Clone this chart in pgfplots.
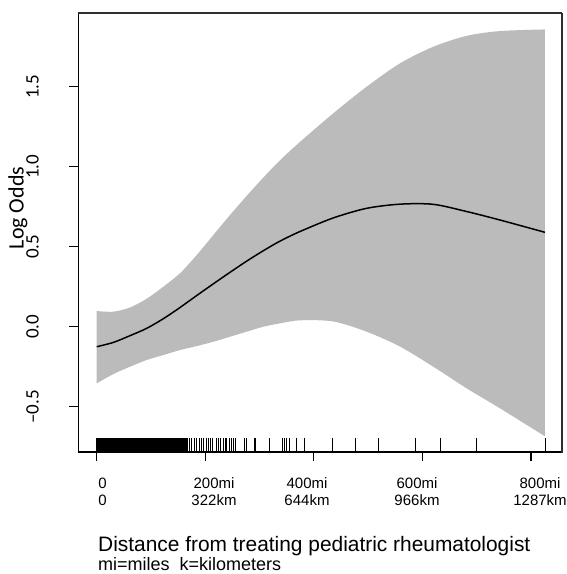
\documentclass[border=0pt]{standalone}
\usepackage{fontspec}
\setmainfont{Liberation Sans}
\newfontfamily\carlito{Carlito}
\usepackage{pgfplots}
\usepgfplotslibrary{fillbetween}
\pgfplotsset{compat=1.18}

% fitted log odds with lower and upper band
\pgfplotstableread{
x      lo      fit     up
0      -0.354  -0.125  0.098
30.7   -0.296  -0.098  0.094
61.3   -0.250  -0.056  0.120
92.1   -0.208  -0.010  0.175
122.7  -0.177   0.050  0.250
153.4  -0.146   0.120  0.334
184.2  -0.121   0.195  0.448
214.8  -0.094   0.268  0.573
245.5  -0.0625  0.340  0.698
276.3  -0.031   0.410  0.818
306.9   0.000   0.475  0.932
337.6   0.021   0.535  1.040
374.4   0.040   0.595  1.155
435.8   0.033   0.680  1.334
497.2  -0.031   0.740  1.500
558.6  -0.124   0.766  1.646
620.0  -0.250   0.765  1.750
681.4  -0.385   0.720  1.818
742.8  -0.510   0.667  1.848
825.7  -0.685   0.590  1.858
}\band

\definecolor{bandgray}{RGB}{187,187,187}
\definecolor{framegray}{RGB}{45,45,45}

\begin{document}
\begin{tikzpicture}
\begin{axis}[
    at={(78.3pt,122pt)}, anchor=south west,
    scale only axis, width=484pt, height=438.7pt,
    xmin=-33.9, xmax=857.6, ymin=-0.783, ymax=1.959,
    axis line style={line width=1.2pt},
    tick align=outside, major tick length=9pt,
    tick style={line width=1.2pt, black},
    xtick pos=left, ytick pos=left,
    xtick={0,200,400,600,800}, xticklabels={},
    ytick={-0.5,0,0.5,1,1.5},
    yticklabels={–0.5,0.0,0.5,1.0,1.5},
    yticklabel shift=27pt,
    yticklabel style={rotate=90, anchor=south, font=\carlito\fontsize{19}{19}\selectfont},
]
\addplot[name path=up, draw=none, smooth] table[x=x, y=up] {\band};
\addplot[name path=lo, draw=none, smooth] table[x=x, y=lo] {\band};
\addplot[bandgray, draw=none] fill between[of=up and lo];
\addplot[black, line width=1.5pt, smooth] table[x=x, y=fit] {\band};

% rug of observed distances: dense part near the centre
\addplot[only marks, mark=|, mark size=6.85pt, mark options={line width=1.8pt, black}] coordinates {
(0,-0.74) (2,-0.74) (4,-0.74) (6,-0.74) (8,-0.74) (10,-0.74) (12,-0.74) (14,-0.74)
(16,-0.74) (18,-0.74) (20,-0.74) (22,-0.74) (24,-0.74) (26,-0.74) (28,-0.74) (30,-0.74)
(32,-0.74) (34,-0.74) (36,-0.74) (38,-0.74) (40,-0.74) (42,-0.74) (44,-0.74) (46,-0.74)
(48,-0.74) (50,-0.74) (52,-0.74) (54,-0.74) (56,-0.74) (58,-0.74) (60,-0.74) (62,-0.74)
(64,-0.74) (66,-0.74) (68,-0.74) (70,-0.74) (72,-0.74) (74,-0.74) (76,-0.74) (78,-0.74)
(80,-0.74) (82,-0.74) (84,-0.74) (86,-0.74) (88,-0.74) (90,-0.74) (92,-0.74) (94,-0.74)
(96,-0.74) (98,-0.74) (100,-0.74) (102,-0.74) (104,-0.74) (106,-0.74) (108,-0.74)
(110,-0.74) (112,-0.74) (114,-0.74) (116,-0.74) (118,-0.74) (120,-0.74) (122,-0.74)
(124,-0.74) (126,-0.74) (128,-0.74) (130,-0.74) (132,-0.74) (134,-0.74) (136,-0.74)
(138,-0.74) (140,-0.74) (142,-0.74) (144,-0.74) (146,-0.74) (148,-0.74) (150,-0.74)
(152,-0.74) (154,-0.74) (156,-0.74) (158,-0.74) (160,-0.74) (162,-0.74) (164,-0.74)
(166,-0.74)
};
% rug: sparse part
\addplot[only marks, mark=|, mark size=6.85pt, mark options={line width=0.8pt, black}] coordinates {
(170.6,-0.74) (175,-0.74) (179.2,-0.74) (184.2,-0.74) (188.4,-0.74) (192.1,-0.74)
(196.4,-0.74) (201.3,-0.74) (205.6,-0.74) (210,-0.74) (213.7,-0.74) (219.8,-0.74)
(224,-0.74) (228.4,-0.74) (233.3,-0.74) (236.3,-0.74) (239.5,-0.74) (244.4,-0.74)
(248.7,-0.74) (251.6,-0.74) (254.7,-0.74) (271.3,-0.74) (275,-0.74) (289.7,-0.74)
(291.6,-0.74) (318,-0.74) (342.6,-0.74) (346.3,-0.74) (350,-0.74) (354.8,-0.74)
(367,-0.74) (381.8,-0.74) (434,-0.74) (475.8,-0.74) (518.7,-0.74) (586.3,-0.74)
(632.3,-0.74) (699.9,-0.74) (825.8,-0.74)
};
\end{axis}

% top and right sides of the frame round the plot region
\draw[framegray, line width=2pt] (77.7pt,560.7pt) -- (562.3pt,560.7pt);
\draw[framegray, line width=2pt] (562.3pt,560.7pt) -- (562.3pt,121.4pt);

\begin{scope}[every node/.style={anchor=base, inner sep=0pt, font=\fontsize{15}{15}\selectfont}]
\node at (102.5pt,85.5pt) {0};
\node at (102.5pt,68.6pt) {0};
\node at (214pt,85.5pt) {200mi};
\node at (214pt,68.6pt) {322km};
\node at (307pt,85.5pt) {400mi};
\node at (307pt,68.6pt) {644km};
\node at (417pt,85.5pt) {600mi};
\node at (417pt,68.6pt) {966km};
\node at (540pt,85.5pt) {800mi};
\node at (540pt,68.6pt) {1287km};
\end{scope}

\node[rotate=90, inner sep=0pt, font=\carlito\fontsize{22}{22}\selectfont] at (18pt,366pt) {Log Odds};
\node[anchor=base west, inner sep=0pt, font=\fontsize{20.9}{20.9}\selectfont] at (98pt,22.3pt) {Distance from treating pediatric rheumatologist};
\node[anchor=base west, inner sep=0pt, font=\fontsize{18}{18}\selectfont] at (98pt,3pt) {mi=miles\ \ k=kilometers};
% page frame matching the reference size
\path (0,0) rectangle (566pt,574pt);
\end{tikzpicture}
\end{document}
